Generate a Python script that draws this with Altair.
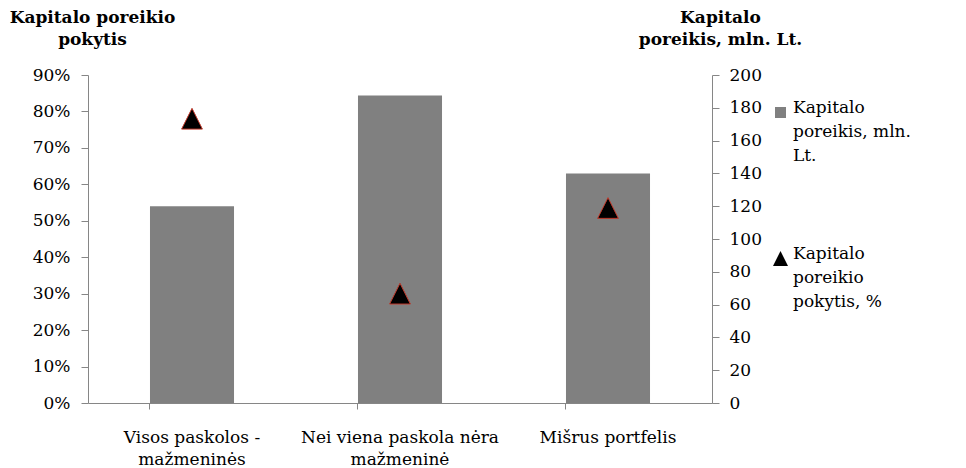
import altair as alt
import pandas as pd

categories = ["Visos paskolos -|mažmeninės", "Nei viena paskola nėra|mažmeninė", "Mišrus portfelis"]
capital_need = [120, 187.5, 140]
need_change = [0.78, 0.30, 0.535]
bar_series = "Kapitalo|poreikis, mln.|Lt."
point_series = "Kapitalo|poreikio|pokytis, %"

df = pd.DataFrame({
    "category": categories,
    "need": capital_need,
    "change": need_change,
    "bar_series": [bar_series] * len(categories),
    "point_series": [point_series] * len(categories),
})

FONT = "DejaVu Serif"
GRAY = "#868686"

x_enc = alt.X(
    "category:N",
    sort=categories,
    scale=alt.Scale(paddingInner=0.596, paddingOuter=0.298),
    axis=alt.Axis(
        title=None,
        labelAngle=0,
        labelExpr="split(datum.label, '|')",
        labelLineHeight=22,
        labelPadding=20,
        labelFontSize=17,
        labelLimit=400,
        bandPosition=0,
        tickSize=6,
        grid=False,
        labelColor="black",
    ),
)

base = alt.Chart(df).encode(x=x_enc)

bars = base.mark_bar(color="#808080").encode(
    y=alt.Y(
        "need:Q",
        scale=alt.Scale(domain=[0, 200]),
        axis=alt.Axis(
            orient="right",
            values=list(range(0, 201, 20)),
            title=["Kapitalo", "poreikis, mln. Lt."],
            titleAngle=0,
            titleAlign="center",
            titleBaseline="top",
            titleX=8,
            titleY=-66,
            titleFontWeight="bold",
            titleFontSize=17,
            titleLineHeight=22,
            titleLimit=400,
            labelFontSize=17,
            labelPadding=10,
            tickSize=7,
            grid=False,
            labelColor="black",
        ),
    ),
    color=alt.Color(
        "bar_series:N",
        scale=alt.Scale(range=["#808080"]),
        legend=alt.Legend(
            title=None,
            orient="none",
            legendX=684,
            legendY=29,
            symbolType="square",
            symbolSize=121,
            symbolStrokeWidth=0,
            labelExpr="split(datum.label, '|')",
            labelFontSize=17,
            labelFont=FONT,
            labelBaseline="alphabetic",
            labelOffset=4,
            labelColor="black",
            labelLimit=300,
            padding=0,
        ),
    ),
)

points = base.mark_point(
    filled=True, fill="black", stroke="#c0392b", strokeWidth=1, size=430, opacity=1
).encode(
    y=alt.Y(
        "change:Q",
        scale=alt.Scale(domain=[0, 0.9]),
        axis=alt.Axis(
            orient="left",
            format=".0%",
            values=[i / 10 for i in range(0, 10)],
            title=["Kapitalo poreikio", "pokytis"],
            titleAngle=0,
            titleAlign="center",
            titleBaseline="top",
            titleX=4,
            titleY=-66,
            titleFontWeight="bold",
            titleFontSize=17,
            titleLineHeight=22,
            titleLimit=400,
            labelFontSize=17,
            labelPadding=11,
            tickSize=7,
            grid=False,
            labelColor="black",
        ),
    ),
    shape=alt.Shape(
        "point_series:N",
        scale=alt.Scale(range=["M0,-1L1,1L-1,1Z"]),
        legend=alt.Legend(
            title=None,
            orient="none",
            legendX=684,
            legendY=175,
            symbolSize=225,
            symbolFillColor="black",
            symbolStrokeColor="#c0392b",
            symbolStrokeWidth=1,
            labelExpr="split(datum.label, '|')",
            labelFontSize=17,
            labelFont=FONT,
            labelBaseline="alphabetic",
            labelOffset=4,
            labelColor="black",
            labelLimit=300,
            padding=0,
        ),
    ),
)

chart = (
    alt.layer(bars, points)
    .resolve_scale(y="independent", color="independent", shape="independent")
    .properties(
        width=624,
        height=328,
        autosize=alt.AutoSizeParams(type="none"),
        padding={"left": 80, "top": 67, "right": 246, "bottom": 65},
    )
    .configure(font=FONT, style={"guide-label": {"lineHeight": 24, "font": FONT}, "guide-title": {"font": FONT}})
    .configure_axis(domainColor=GRAY, tickColor=GRAY, titleColor="black", labelFont=FONT, titleFont=FONT)
    .configure_legend(labelFont=FONT)
    .configure_view(stroke=None)
)

chart.save("out.html", embed_options={"renderer": "svg", "actions": False})
